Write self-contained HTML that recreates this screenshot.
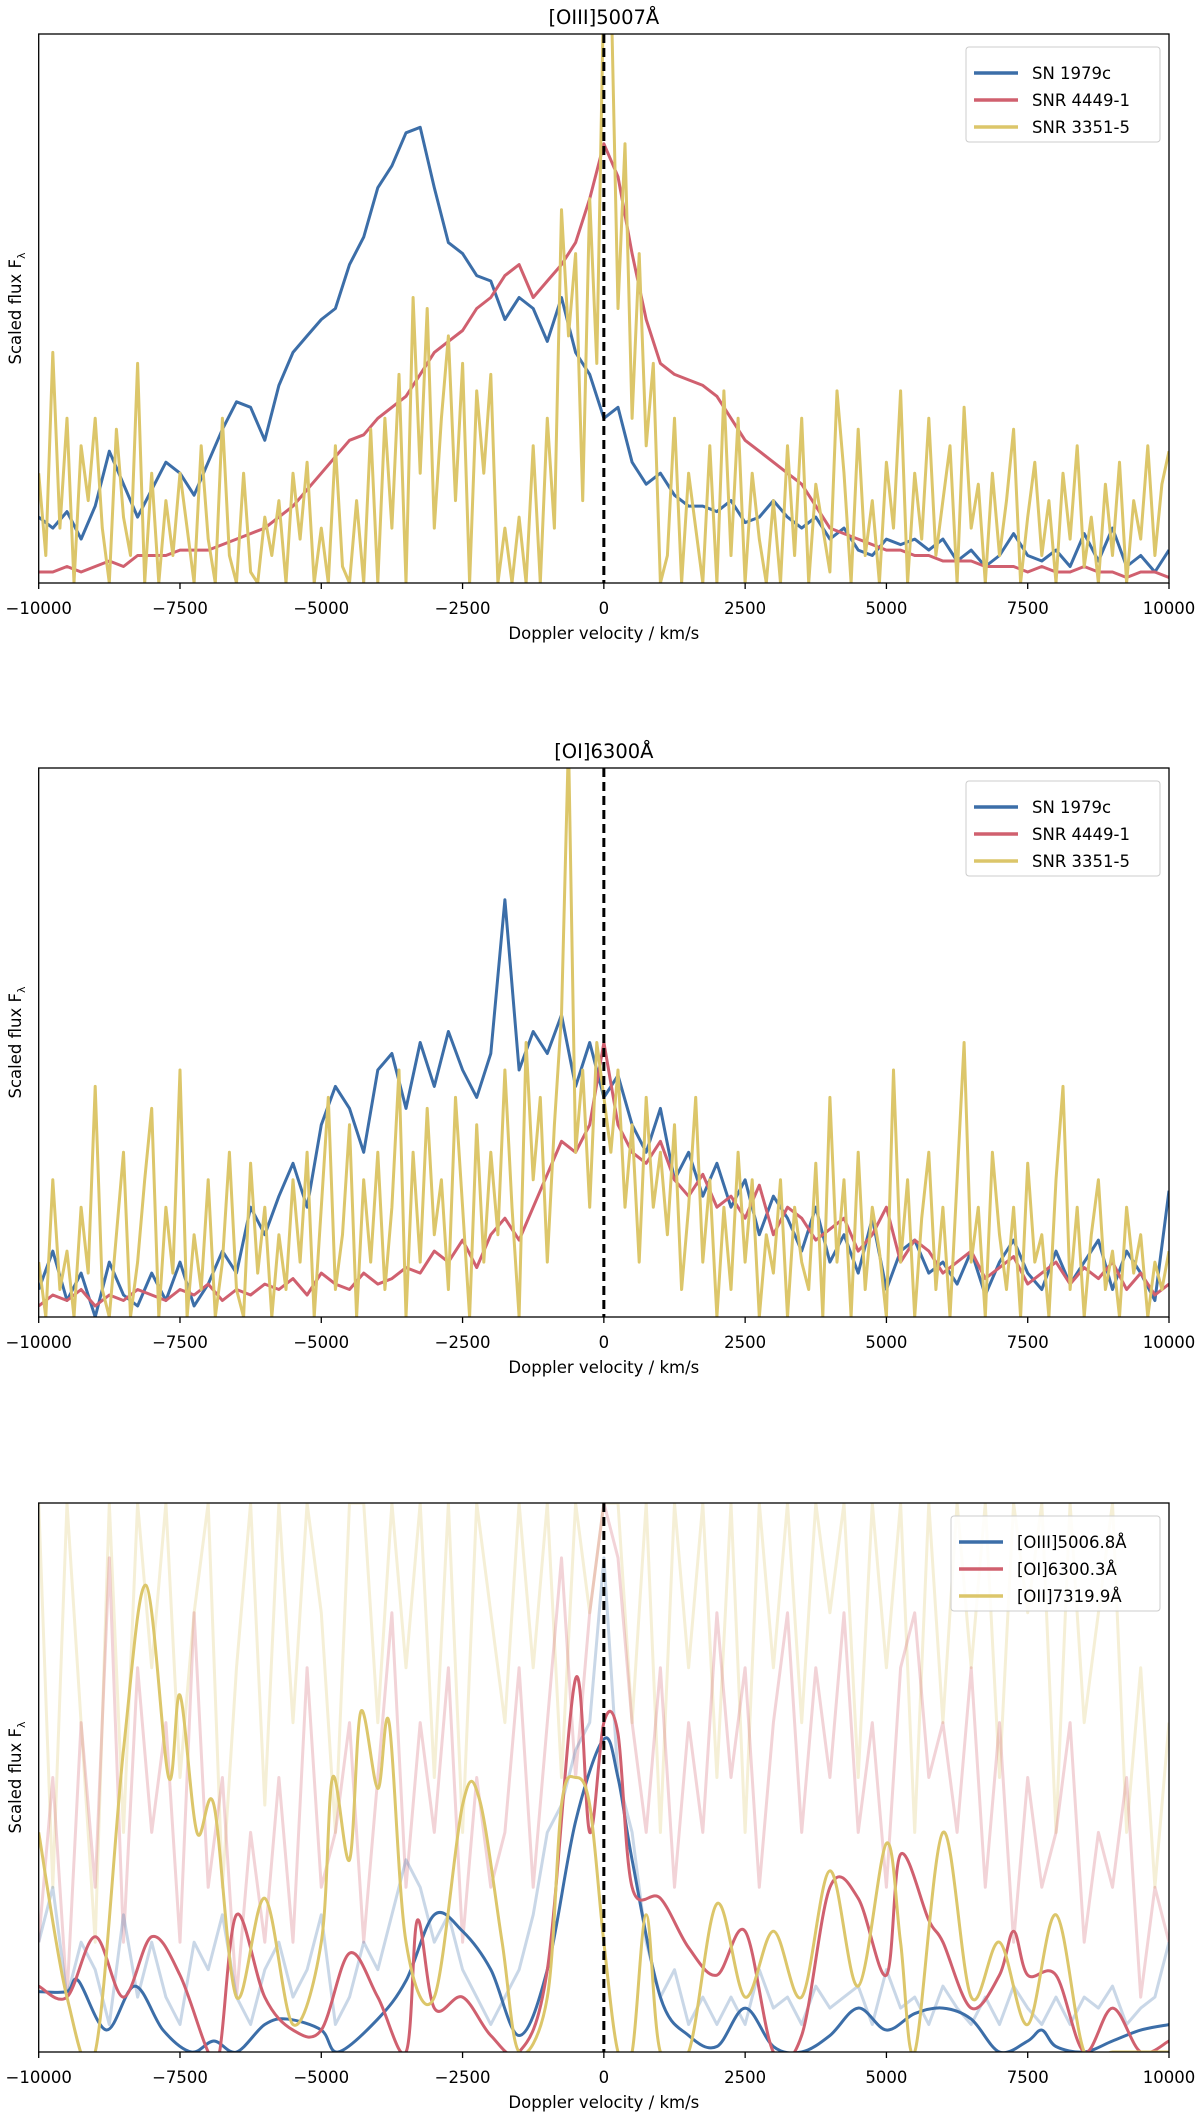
<!DOCTYPE html>
<html><head><meta charset="utf-8">
<style>
html,body{margin:0;padding:0;background:#fff;}
svg{display:block;font-family:"DejaVu Sans","Liberation Sans",sans-serif;}
</style></head>
<body>
<svg id="fig" width="1200" height="2115" viewBox="0 0 1200 2115" xmlns="http://www.w3.org/2000/svg"></svg>
<script>
// ---- data (normalised flux 0-100 of axis height) ----
const p1Blue = [12,10,13,8,14,24,18,12,17, 22,20,16,22,28,33,32,26, 36,42,45,48,50,58,63,72, 76,82,83,72,62,60,56,55, 48,52,50,44,52,42,38,30, 32,22,18,20,16,14,14,13, 15,11,12,15,12,10,12,8, 10,6,5,8,7,8,6,8, 4,6,3,5,9,5,4,6, 3,9,4,10,3,5,2,6];
const p1Red = [2,2,3,2,3,4,3,5,5, 5,6,6,6,7,8,9,10, 12,14,17,20,23,26,27,30, 32,34,38,42,44,46,50,52, 56,58,52,55,58,62,70,80, 74,60,48,40,38,37,36,34, 30,26,24,22,20,18,14,10, 9,8,7,6,6,5,5,4, 4,4,3,3,3,2,3,2, 2,3,2,2,1,2,2,1];
const p1Yellow = [20,5,42,10,30,0,25,15,30, 10,0,28,12,5,40,0,20, 0,15,5,20,10,0,25,8, 0,30,5,0,20,2,0,12, 5,15,0,20,8,22,0,10, 0,25,3,0,15,0,28,0, 30,10,38,0,52,20,50,10, 30,45,15,40,0,35,20,38, 0,10,0,12,0,25,0,30, 10,68,45,60,15,70,40,110, 110,50,80,30,60,25,40,0, 5,30,0,20,10,0,25,0, 35,5,30,0,20,8,0,15, 0,25,5,30,0,18,10,2, 35,20,0,28,5,15,0,22, 10,35,0,20,8,30,5,15, 25,0,32,10,18,0,20,5, 15,28,0,12,22,5,15,0, 20,8,25,3,12,0,18,5, 22,0,15,8,25,5,18,24];
const p2Blue = [5,12,3,8,0,10,4,2,8, 3,10,2,6,12,8,20,15, 22,28,20,35,42,38,30,45, 48,38,50,42,52,45,40,48, 76,45,52,48,55,42,50,40, 44,35,30,38,25,30,22,28, 20,25,15,22,18,12,20,10, 15,8,18,5,12,14,8,10, 6,12,4,10,14,8,5,12, 6,10,14,5,12,8,3,23];
const p2Red = [2,4,3,5,2,4,3,5,4, 3,5,4,6,3,5,4,6, 5,7,4,8,6,5,8,6, 7,9,8,12,10,14,9,15, 18,14,20,26,32,30,35,50, 35,30,28,32,25,22,26,20, 22,18,24,15,20,18,14,16, 18,12,15,20,10,14,12,8, 10,12,7,9,11,6,8,10, 6,9,7,10,5,8,4,6];
const p2Yellow = [10,0,25,5,12,0,20,8,42, 5,0,15,30,0,10,25,38, 0,20,8,45,0,15,5,25, 0,10,30,5,0,28,8,20, 0,15,5,25,10,30,0,20, 40,5,15,35,0,25,10,30, 5,20,45,0,30,10,38,15, 25,5,40,20,0,35,10,30, 15,45,20,0,50,25,40,10, 35,55,105,30,45,20,50,40, 30,45,20,35,10,40,20,30, 15,35,5,20,40,10,25,0, 20,5,30,10,25,0,15,8, 25,0,20,10,5,28,0,40, 10,25,0,30,5,20,12,0, 45,10,25,0,18,30,5,20, 0,25,50,10,20,0,30,15, 5,20,0,28,10,15,0,25, 42,5,20,0,15,25,5,12, 0,20,8,15,0,10,5,12];
// panel 3 smoothed curves: [velocity, flux]
const p3BlueV = [-10000,-9500,-9300,-8800,-8300,-7800,-7300,-6900,-6500,-6000,-5600,-5000,-4700,-4000,-3500,-3000,-2500,-2000,-1500,-1000,-500,0,250,500,1000,1500,2000,2500,3000,3500,4000,4500,5000,5500,6000,6500,7000,7500,7750,8000,8500,9000,9500,10000];
const p3BlueF = [11,11,13,4,12,4,0,2,0,5,6,4,0,6,13,25,22,15,3,15,42,57,50,35,10,3,1,8,1,0,3,8,4,7,8,6,0,2,4,1,0,2,4,5];
const p3RedV = [-10000,-9500,-9000,-8500,-8000,-7500,-7000,-6800,-6500,-6000,-5500,-5000,-4500,-4000,-3500,-3300,-3000,-2500,-2000,-1500,-1000,-500,-250,0,250,500,1000,1500,2000,2500,3000,3500,4000,4500,5000,5250,5750,6000,6500,7000,7250,7500,8000,8500,9000,9500,10000];
const p3RedF = [12,10,21,10,21,14,0,0,25,10,4,4,18,10,0,24,8,10,3,0,15,68,40,60,58,30,28,19,14,22,0,3,30,28,14,36,24,20,8,14,22,14,14,0,8,0,2];
const p3YelV = [-10000,-9500,-9000,-8500,-8100,-7700,-7500,-7200,-6900,-6500,-6000,-5500,-5000,-4800,-4500,-4300,-4000,-3800,-3500,-3000,-2500,-2200,-1800,-1500,-1000,-750,-500,-250,0,250,500,750,1000,1500,2000,2500,3000,3500,4000,4500,5000,5250,5500,6000,6500,7000,7500,8000,8500,9000,9500,10000];
const p3YelF = [40,10,0,55,85,50,65,40,45,10,28,5,20,50,35,62,48,60,20,10,45,46,20,0,10,45,50,45,20,0,0,25,0,0,27,10,22,10,33,12,38,20,0,40,10,20,5,25,0,0,0,0];
const p3FaintYellow = [100,30,100,60,20,100,40,100,70, 100,50,80,100,30,70,100,45, 100,60,100,80,40,100,100,60, 100,70,100,50,100,40,100,80, 60,100,70,100,50,100,80,100, 100,60,100,40,100,70,100,50, 100,40,100,70,100,60,100,80, 100,50,100,70,100,40,100,60, 100,70,100,50,100,80,100,40, 100,60,80,100,40,70,30,60];
const p3FaintRed = [20,50,10,60,30,90,20,70,40, 60,20,80,30,50,10,40,20, 50,20,70,30,40,60,20,50, 80,30,60,40,70,20,50,30, 40,70,30,60,90,50,80,100, 90,60,40,70,30,60,40,80, 50,70,30,60,80,40,70,50, 80,40,60,30,70,80,50,60, 40,70,30,60,20,50,30,40, 60,20,40,30,50,10,30,20];
const p3FaintBlue = [20,30,10,20,15,5,25,10,20, 10,5,20,15,25,10,5,15, 20,10,15,25,5,10,20,15, 25,35,30,20,25,15,10,5, 10,15,25,40,45,55,60,90, 50,40,20,10,15,5,10,5, 10,5,15,8,10,5,12,8, 10,12,5,15,8,10,5,12, 8,5,10,5,12,8,5,10, 5,10,8,12,5,8,10,20];
const xTicks = [-10000,-7500,-5000,-2500,0,2500,5000,7500,10000];
const legend12 = ["SN 1979c","SNR 4449-1","SNR 3351-5"];
const legend3 = ["[OIII]5006.8Å","[OI]6300.3Å","[OII]7319.9Å"];

const NS = "http://www.w3.org/2000/svg";
const svg = document.getElementById('fig');
const BLUE="#3c6ea8", RED="#d0606f", YEL="#dcc66a";
const X0=38.7, X1=1169, H=549;
function mk(tag, attrs, parent){const e=document.createElementNS(NS,tag);for(const k in attrs)e.setAttribute(k,attrs[k]);(parent||svg).appendChild(e);return e;}
function xs(v){return X0+(v+10000)/20000*(X1-X0);}
function evenV(n){const a=[];for(let i=0;i<n;i++)a.push(-10000+i*20000/(n-1));return a;}
function linePath(vs,fs,ys){return vs.map((v,i)=>(i?'L':'M')+xs(v).toFixed(1)+','+ys(fs[i]).toFixed(1)).join('');}
function smoothPath(vs,fs,ys){
  const p=vs.map((v,i)=>[xs(v),ys(fs[i])]);let d='M'+p[0][0]+','+p[0][1];
  for(let i=0;i<p.length-1;i++){const a=p[i-1]||p[i],b=p[i],c=p[i+1],e=p[i+2]||c;
    d+='C'+(b[0]+(c[0]-a[0])/6)+','+(b[1]+(c[1]-a[1])/6)+' '+(c[0]-(e[0]-b[0])/6)+','+(c[1]-(e[1]-b[1])/6)+' '+c[0]+','+c[1];}
  return d;}

function panel(idx, top, title, series, legendLabels, legendX){
  const g=mk('g',{});
  
  
  const ys=f=>top+H-f/100*H;
  const cid='clip'+idx;
  const cp=mk('clipPath',{id:cid},g);mk('rect',{x:X0,y:top,width:X1-X0,height:H},cp);
  const plot=mk('g',{'clip-path':'url(#'+cid+')'},g);
  series.forEach(s=>{
    const d=s.smooth?smoothPath(s.v,s.f,ys):linePath(s.v,s.f,ys);
    const p=mk('path',{d:d,fill:'none',stroke:s.c,'stroke-width':s.w||3,'stroke-linejoin':'round','stroke-opacity':s.o||1},plot);
    
    
  });
  const dl=mk('line',{x1:xs(0),x2:xs(0),y1:top,y2:top+H,stroke:'#000','stroke-width':3,'stroke-dasharray':'9,5'},plot);
  
  
  const fr=mk('rect',{x:X0,y:top,width:X1-X0,height:H,fill:'none',stroke:'#000','stroke-width':1.3},g);
  
  
  xTicks.forEach(t=>{
    mk('line',{x1:xs(t),x2:xs(t),y1:top+H,y2:top+H+6,stroke:'#000','stroke-width':1.3},g);
    const tl=mk('text',{x:xs(t),y:top+H+31,'text-anchor':'middle','font-size':16.5,fill:'#000'},g);
    tl.textContent=(t<0?'\u2212'+(-t):''+t);
    
    
  });
  const xl=mk('text',{x:(X0+X1)/2,y:top+H+56,'text-anchor':'middle','font-size':16.5},g);
  xl.textContent='Doppler velocity / km/s';
  
  
  const yl=mk('text',{x:0,y:0,'text-anchor':'middle','font-size':16.5,transform:'translate(21,'+(top+H/2)+') rotate(-90)'},g);
  yl.textContent='Scaled flux F';
  const sub=mk('tspan',{'font-size':11,dy:4},yl);sub.textContent='λ';
  
  
  if(title){const tt=mk('text',{x:(X0+X1)/2,y:top-10,'text-anchor':'middle','font-size':19.5},g);tt.textContent=title;
    
    }
  const lg=mk('g',{},g);
  
  
  mk('rect',{x:legendX,y:top+13,width:1160-legendX,height:95,rx:3,fill:'#fff','fill-opacity':0.85,stroke:'#ccc','stroke-width':1},lg);
  const cols=[BLUE,RED,YEL];
  legendLabels.forEach((l,i)=>{
    const yy=top+39+i*27;
    mk('line',{x1:legendX+8,x2:legendX+52,y1:yy,y2:yy,stroke:cols[i],'stroke-width':3.5},lg);
    const t=mk('text',{x:legendX+66,y:yy+6,'font-size':16.5},lg);t.textContent=l;
    
    
  });
}

panel(1,34,'[OIII]5007Å',[
  {v:evenV(p1Blue.length),f:p1Blue,c:BLUE,name:'series-sn1979c'},
  {v:evenV(p1Red.length),f:p1Red,c:RED,name:'series-snr4449-1'},
  {v:evenV(p1Yellow.length),f:p1Yellow,c:YEL,name:'series-snr3351-5'}],legend12,966);
panel(2,768,'[OI]6300Å',[
  {v:evenV(p2Blue.length),f:p2Blue,c:BLUE,name:'series-sn1979c'},
  {v:evenV(p2Red.length),f:p2Red,c:RED,name:'series-snr4449-1'},
  {v:evenV(p2Yellow.length),f:p2Yellow,c:YEL,name:'series-snr3351-5'}],legend12,966);
panel(3,1503,null,[
  {v:evenV(p3FaintYellow.length),f:p3FaintYellow,c:YEL,o:0.28,w:3,name:'raw-oii'},
  {v:evenV(p3FaintRed.length),f:p3FaintRed,c:RED,o:0.28,w:3,name:'raw-oi'},
  {v:evenV(p3FaintBlue.length),f:p3FaintBlue,c:BLUE,o:0.28,w:3,name:'raw-oiii'},
  {v:p3BlueV,f:p3BlueF,c:BLUE,smooth:true,name:'smooth-oiii'},
  {v:p3RedV,f:p3RedF,c:RED,smooth:true,name:'smooth-oi'},
  {v:p3YelV,f:p3YelF,c:YEL,smooth:true,name:'smooth-oii'}],legend3,951);
</script>
</body></html>
